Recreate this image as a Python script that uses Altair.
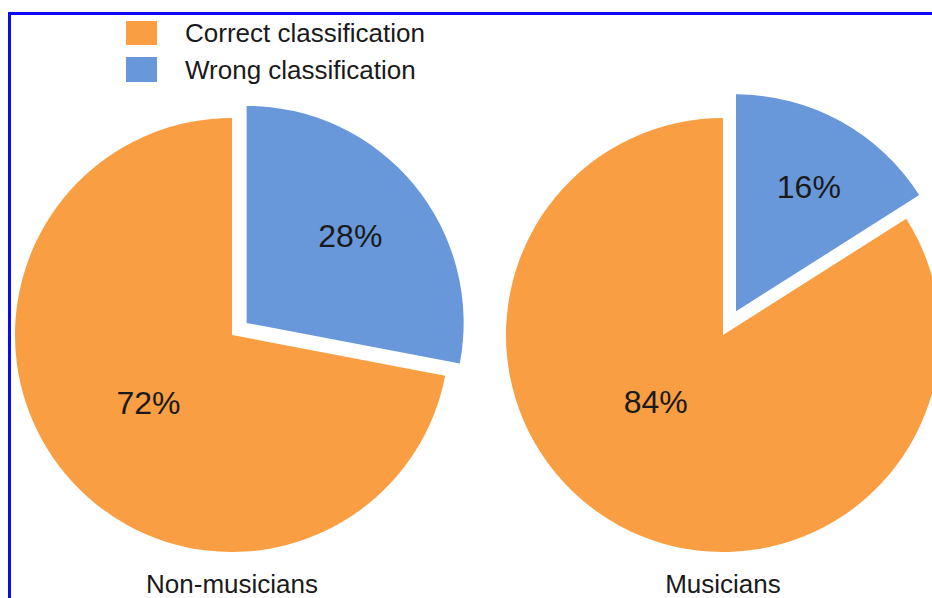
import math
import altair as alt
import pandas as pd

# ---- data ----
groups = ["Non-musicians", "Musicians"]
categories = ["Wrong classification", "Correct classification"]
wrong_pct = [28, 16]
correct_pct = [72, 84]

legend_order = ["Correct classification", "Wrong classification"]
colors = {"Correct classification": "#F99E42", "Wrong classification": "#6898D9"}

# ---- layout ----
W, H = 932, 598
R = 217
CY = 335
centre_x = {"Non-musicians": 232, "Musicians": 723}
explode = {"Non-musicians": 19, "Musicians": 27}
label_frac = {"Wrong classification": 0.62, "Correct classification": 0.5}
label_nudge = {("Musicians", "Correct classification"): (-15, -27),
               ("Musicians", "Wrong classification"): (8, -5)}
FONT = "Liberation Sans"

rows = []
for g, w, c in zip(groups, wrong_pct, correct_pct):
    for order, (cat, v) in enumerate(zip(categories, [w, c])):
        rows.append({"group": g, "category": cat, "value": v, "order": order})
df = pd.DataFrame(rows)


def per_group(d):
    expr = "0"
    for k, v in d.items():
        expr = f"(datum.group == '{k}' ? {v} : {expr})"
    return expr


nudge_x = "0"
nudge_y = "0"
for (g, cat), (dx, dy) in label_nudge.items():
    cond = f"datum.group == '{g}' && datum.category == '{cat}'"
    nudge_x = f"({cond} ? {dx} : {nudge_x})"
    nudge_y = f"({cond} ? {dy} : {nudge_y})"

frac_expr = "0"
for k, v in label_frac.items():
    frac_expr = f"(datum.category == '{k}' ? {v} : {frac_expr})"

base = (
    alt.Chart(df)
    .transform_stack(stack="value", groupby=["group"], as_=["t0", "t1"],
                     sort=[alt.SortField("order", order="ascending")])
    .transform_calculate(
        mid="(datum.t0 + datum.t1) / 100 * PI",
        ex=f"datum.category == 'Wrong classification' ? {per_group(explode)} : 0",
        cx=f"{per_group(centre_x)} + datum.ex * sin(datum.mid)",
        cy=f"{CY} - datum.ex * cos(datum.mid)",
        lx=f"datum.cx + {R} * {frac_expr} * sin(datum.mid) + {nudge_x}",
        ly=f"datum.cy - {R} * {frac_expr} * cos(datum.mid) + {nudge_y}",
        label="datum.value + '%'",
    )
)

theta_scale = alt.Scale(domain=[0, 100], range=[0, 2 * math.pi])
color_scale = alt.Scale(domain=list(colors), range=list(colors.values()))

slices = base.mark_arc(radius=R, stroke=None).encode(
    x=alt.X("cx:Q", scale=None),
    y=alt.Y("cy:Q", scale=None),
    theta=alt.Theta("t0:Q", scale=theta_scale),
    theta2="t1:Q",
    color=alt.Color("category:N", scale=color_scale, legend=None),
)

pct_labels = base.mark_text(font=FONT, fontSize=32, color="#1a1a1a",
                            baseline="middle", align="center").encode(
    x=alt.X("lx:Q", scale=None),
    y=alt.Y("ly:Q", scale=None),
    text="label:N",
)

# group captions under each pie
cap_df = pd.DataFrame({"group": groups})
captions = (
    alt.Chart(cap_df)
    .transform_calculate(gx=per_group(centre_x))
    .mark_text(font=FONT, fontSize=26, color="#1a1a1a", baseline="bottom", align="center")
    .encode(x=alt.X("gx:Q", scale=None), y=alt.value(598), text="group:N")
)

# legend drawn as swatches + labels
leg_df = pd.DataFrame({"category": legend_order, "i": list(range(len(legend_order)))})
leg_base = alt.Chart(leg_df).transform_calculate(
    top="21 + datum.i * 36", bot="45 + datum.i * 37", base="42 + datum.i * 37"
)
leg_swatch = leg_base.mark_rect().encode(
    x=alt.value(126), x2=alt.value(157),
    y=alt.Y("top:Q", scale=None), y2="bot:Q",
    color=alt.Color("category:N", scale=color_scale, legend=None),
)
leg_text = leg_base.mark_text(font=FONT, fontSize=26, color="#1a1a1a",
                              align="left", baseline="alphabetic").encode(
    x=alt.value(185), y=alt.Y("base:Q", scale=None), text="category:N"
)

# blue frame along the top and left edges
frame_top = alt.Chart(cap_df).mark_rule(color="#0a0af5", strokeWidth=3).encode(
    x=alt.value(8), x2=alt.value(W), y=alt.value(13.5)
)
frame_left = alt.Chart(cap_df).mark_rule(color="#0a0af5", strokeWidth=3).encode(
    x=alt.value(9.5), y=alt.value(12), y2=alt.value(H)
)

chart = (
    alt.layer(slices, pct_labels, captions, leg_swatch, leg_text, frame_top, frame_left)
    .properties(width=W, height=H, padding=0, background="white",
                autosize=alt.AutoSizeParams(type="none"))
    .configure_view(stroke=None)
)

chart.save("out.html", embed_options={"renderer": "svg", "actions": False})
